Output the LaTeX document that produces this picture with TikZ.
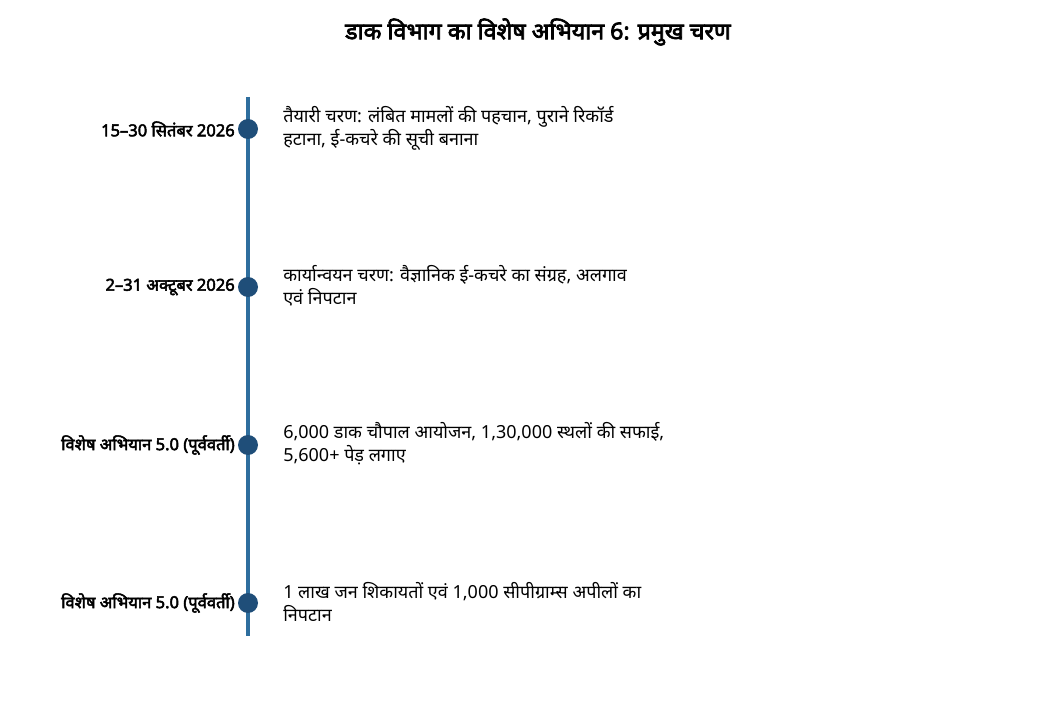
\documentclass[tikz,border=0pt]{standalone}
\usepackage{fontspec}
\setmainfont[Script=Devanagari, AutoFakeBold=3]{Noto Sans}
\definecolor{axisblue}{HTML}{2E6E9E}
\definecolor{dotblue}{HTML}{1F4E79}
\tikzset{
  phasedot/.style={circle, fill=dotblue, minimum size=15pt, inner sep=0pt},
  datelabel/.style={anchor=east, font=\fontsize{12.4}{15}\selectfont\bfseries, inner sep=0pt},
  phasetext/.style={anchor=west, align=left, font=\fontsize{13.5}{17.25}\selectfont, inner sep=0pt}
}
\begin{document}
\begin{tikzpicture}[x=0.75pt, y=-0.75pt]

  %%-- PAGE (1040 x 702 px) --%%
  \useasboundingbox (0,0) rectangle (1040,702);

  %%-- TITLE --%%
  \node[font=\fontsize{17.4}{20}\selectfont\bfseries] (title) at (538,32)
    {डाक विभाग का विशेष अभियान 6: प्रमुख चरण};

  %%-- TIMELINE AXIS (x = 248) --%%
  \coordinate (axistop) at (248,97);
  \coordinate (axisbot) at (248,636);
  \draw[axisblue, line width=2.4pt] (axistop) -- (axisbot);

  %%-- PHASE DOTS (y = 129, 287, 445, 603) --%%
  \foreach \k/\y in {1/129, 2/287, 3/445, 4/603} {
    \node[phasedot] (dot\k) at (248,\y) {};
  }

  %%-- DATE LABELS (right aligned to x = 235) --%%
  \node[datelabel] (date1) at (235,129) {15–30 सितंबर 2026};
  \node[datelabel] (date2) at (235,287) {2–31 अक्टूबर 2026};
  \node[datelabel] (date3) at (235,445) {विशेष अभियान 5.0 (पूर्ववर्ती)};
  \node[datelabel] (date4) at (235,603) {विशेष अभियान 5.0 (पूर्ववर्ती)};

  %%-- PHASE DESCRIPTIONS (left at x = 283) --%%
  \node[phasetext] (text1) at (283,128)
    {तैयारी चरण: लंबित मामलों की पहचान, पुराने रिकॉर्ड\\हटाना, ई-कचरे की सूची बनाना};
  \node[phasetext] (text2) at (283,286)
    {कार्यान्वयन चरण: वैज्ञानिक ई-कचरे का संग्रह, अलगाव\\एवं निपटान};
  \node[phasetext] (text3) at (283,444)
    {6,000 डाक चौपाल आयोजन, 1,30,000 स्थलों की सफाई,\\5,600+ पेड़ लगाए};
  \node[phasetext] (text4) at (283,602)
    {1 लाख जन शिकायतों एवं 1,000 सीपीग्राम्स अपीलों का\\निपटान};

\end{tikzpicture}
\end{document}
